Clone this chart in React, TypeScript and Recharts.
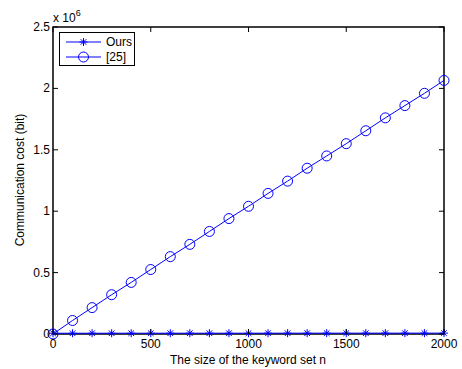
import { LineChart, Line, XAxis, YAxis, ReferenceArea } from "recharts";

const keywordCounts = [
  0, 100, 200, 300, 400, 500, 600, 700, 800, 900, 1000, 1100, 1200, 1300, 1400,
  1500, 1600, 1700, 1800, 1900, 2000,
];
const oursCost = [
  6200, 6200, 6300, 6300, 6400, 6400, 6500, 6500, 6600, 6600, 6700, 6700, 6800,
  6800, 6900, 6900, 7000, 7000, 7100, 7100, 7200,
];
const ref25Cost = [
  0, 110000, 215000, 320000, 420000, 525000, 630000, 730000, 835000, 940000,
  1040000, 1145000, 1245000, 1350000, 1450000, 1550000, 1655000, 1760000,
  1860000, 1960000, 2065000,
];
const xTicks = [0, 500, 1000, 1500, 2000];
const yTicks = [0, 500000, 1000000, 1500000, 2000000, 2500000];

const data = keywordCounts.map((n, i) => ({
  n,
  ours: oursCost[i],
  ref25: ref25Cost[i],
}));

const BLUE = "#0000ff";
const FONT = "'Liberation Sans', Arial, sans-serif";
const LEFT = 53;
const RIGHT = 444;
const TOP = 27;
const BOTTOM = 334;

function StarDot(props: any) {
  const { cx, cy, index } = props;
  if (cx == null || cy == null) return <g key={index} />;
  const r = 4;
  const d = 2.8;
  return (
    <g key={index} stroke={BLUE} strokeWidth={1}>
      <line x1={cx - r} y1={cy} x2={cx + r} y2={cy} />
      <line x1={cx} y1={cy - r} x2={cx} y2={cy + r} />
      <line x1={cx - d} y1={cy - d} x2={cx + d} y2={cy + d} />
      <line x1={cx - d} y1={cy + d} x2={cx + d} y2={cy - d} />
    </g>
  );
}

function CircleDot(props: any) {
  const { cx, cy, index } = props;
  if (cx == null || cy == null) return <g key={index} />;
  return (
    <circle key={index} cx={cx} cy={cy} r={5} fill="none" stroke={BLUE} strokeWidth={1} />
  );
}

// MATLAB-style: ticks point inward, mirrored on the opposite edge
function XTick(props: any) {
  const { x, payload } = props;
  return (
    <g>
      <line x1={x} y1={BOTTOM} x2={x} y2={BOTTOM - 5} stroke="#000" />
      <line x1={x} y1={TOP} x2={x} y2={TOP + 5} stroke="#000" />
      <text x={x} y={BOTTOM + 14} textAnchor="middle" fontSize={12} fontFamily={FONT} fill="#000">
        {payload.value}
      </text>
    </g>
  );
}

function YTick(props: any) {
  const { y, payload } = props;
  return (
    <g>
      <line x1={LEFT} y1={y} x2={LEFT + 5} y2={y} stroke="#000" />
      <line x1={RIGHT} y1={y} x2={RIGHT - 5} y2={y} stroke="#000" />
      <text x={LEFT - 3} y={y + 4} textAnchor="end" fontSize={12} fontFamily={FONT} fill="#000">
        {String(payload.value / 1e6)}
      </text>
    </g>
  );
}

export default function App() {
  return (
    <div style={{ position: "absolute", left: 0, top: 0, width: 462, height: 369, background: "#fff" }}>
      <LineChart
        width={462}
        height={369}
        data={data}
        margin={{ top: TOP, right: 462 - RIGHT, bottom: 0, left: 0 }}
      >
        <XAxis
          dataKey="n"
          type="number"
          domain={[0, 2000]}
          ticks={xTicks}
          height={369 - BOTTOM}
          axisLine={false}
          tickLine={false}
          tickSize={0}
          tick={<XTick />}
          interval={0}
        />
        <YAxis
          type="number"
          domain={[0, 2500000]}
          ticks={yTicks}
          width={LEFT}
          axisLine={false}
          tickLine={false}
          tickSize={0}
          tick={<YTick />}
          interval={0}
        />
        <ReferenceArea
          x1={0}
          x2={2000}
          y1={0}
          y2={2500000}
          fill="none"
          stroke="#000"
          strokeWidth={1.5}
        />
        <Line
          dataKey="ref25"
          stroke={BLUE}
          strokeWidth={1}
          dot={<CircleDot />}
          isAnimationActive={false}
        />
        <Line
          dataKey="ours"
          stroke={BLUE}
          strokeWidth={1}
          dot={<StarDot />}
          isAnimationActive={false}
        />
      </LineChart>

      <div
        style={{
          position: "absolute",
          left: 20,
          top: 180,
          transform: "translate(-50%, -50%) rotate(-90deg)",
          fontFamily: FONT,
          fontSize: 12,
          whiteSpace: "nowrap",
        }}
      >
        Communication cost (bit)
      </div>
      <div
        style={{
          position: "absolute",
          left: 248,
          top: 353,
          transform: "translateX(-50%)",
          fontFamily: FONT,
          fontSize: 12,
          lineHeight: "14px",
          whiteSpace: "nowrap",
        }}
      >
        The size of the keyword set n
      </div>
      <div
        style={{
          position: "absolute",
          left: 53,
          top: 8,
          fontFamily: FONT,
          fontSize: 12,
          whiteSpace: "nowrap",
        }}
      >
        x 10<sup style={{ fontSize: 9, verticalAlign: "6px" }}>6</sup>
      </div>

      <div
        style={{
          position: "absolute",
          left: 59,
          top: 32,
          width: 76,
          height: 34,
          border: "1px solid #000",
          background: "#fff",
          boxSizing: "border-box",
        }}
      >
        <svg width={76} height={34} style={{ position: "absolute", left: -1, top: -1 }}>
          <line x1={7} y1={10} x2={42} y2={10} stroke={BLUE} />
          <StarDot cx={24.5} cy={10} index={0} />
          <line x1={7} y1={25} x2={42} y2={25} stroke={BLUE} />
          <CircleDot cx={24.5} cy={25} index={1} />
          <text x={47} y={14} fontSize={12} fontFamily={FONT} fill="#000">
            Ours
          </text>
          <text x={47} y={29} fontSize={12} fontFamily={FONT} fill="#000">
            [25]
          </text>
        </svg>
      </div>
    </div>
  );
}
